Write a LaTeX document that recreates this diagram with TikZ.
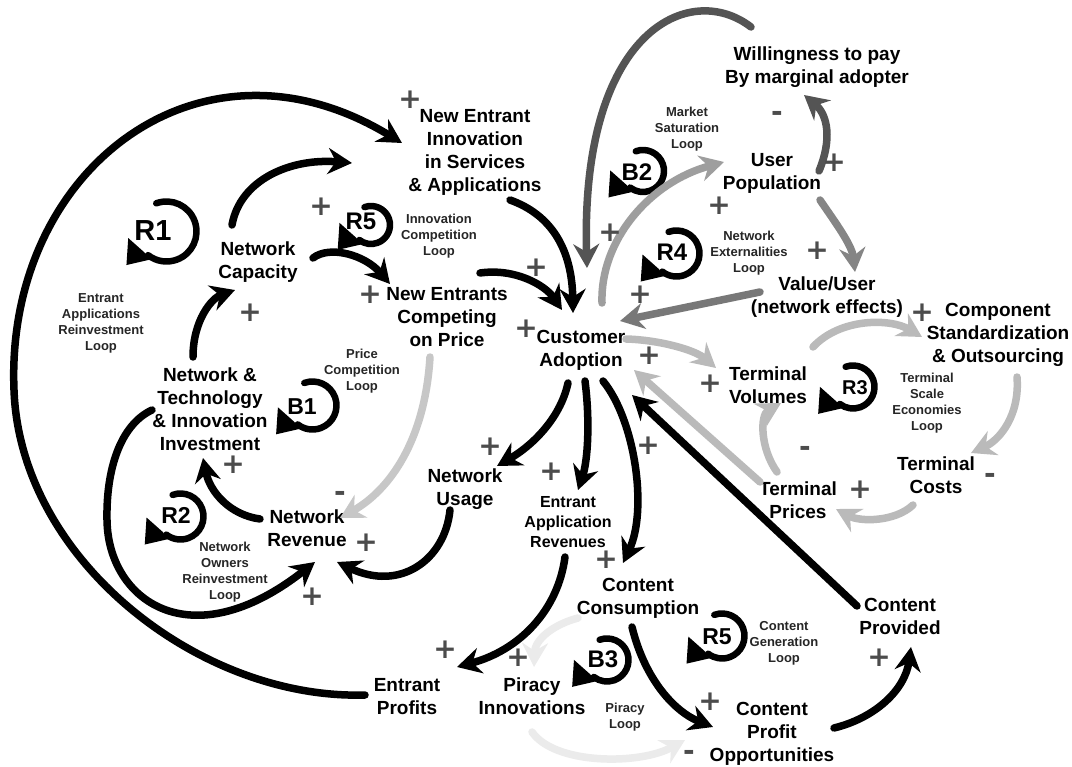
\documentclass[tikz,border=0pt]{standalone}
\usepackage{fontspec}
\setmainfont{Liberation Sans}
\newfontfamily\signfont{DejaVu Sans}
\usetikzlibrary{arrows.meta}

\definecolor{signgray}{gray}{0.30}
\definecolor{loopgray}{gray}{0.15}
\definecolor{dkg}{gray}{0.33}
\definecolor{mdg}{gray}{0.47}
\definecolor{mdgb}{gray}{0.52}
\definecolor{ltg}{gray}{0.62}
\definecolor{pale}{gray}{0.73}
\definecolor{paleb}{gray}{0.78}
\definecolor{ghost}{gray}{0.92}

% loop marker: name, label position, label, label size, arc centre, radius
% the arc runs clockwise from the top and ends in a barbed head pointing up-left
\newcommand\loopmark[6]{%
  \node[loopid, font=\bfseries\fontsize{#4}{#4}\selectfont] (#1) at (#2) {#3};
  \draw[looparc] (#5) ++(250:#6) arc[start angle=250, end angle=488, radius=#6] coordinate (#1-end);
  \fill[shift={(#1-end)}, scale=0.9] (-22,-19) -- (-24,11) -- (2,5) -- (-4,-3) -- cycle;
}

\begin{document}
\begin{tikzpicture}[x=1pt, y=-1pt,
  var/.style={align=center, font=\bfseries\fontsize{19}{23}\selectfont, inner sep=0pt},
  midvar/.style={align=center, font=\bfseries\fontsize{16}{20}\selectfont, inner sep=0pt},
  loopname/.style={align=center, font=\bfseries\fontsize{13}{16}\selectfont, text=loopgray, inner sep=0pt},
  loopid/.style={inner sep=0pt},
  looparc/.style={line width=6.5pt, line cap=round},
  sign/.style={font=\signfont\bfseries\fontsize{28}{28}\selectfont, text=signgray, inner sep=0pt},
  link/.style={line width=7.5pt, line cap=round, -{Stealth[length=24pt,width=26pt,inset=8pt]}},
]
\useasboundingbox[fill=white] (0,0) rectangle (1072,767);

% ---------- variables ----------
\node[var] (nei)   at (475,152) {New Entrant\\Innovation\\in Services\\\& Applications};
\node[var] (ncap)  at (258,262) {Network\\Capacity};
\node[var] (necp)  at (447,317) {New Entrants\\Competing\\on Price};
\node[var] (nti)   at (210,409) {Network \&\\Technology\\\& Innovation\\Investment};
\node[var] (nrev)  at (307,528) {Network\\Revenue};
\node[var] (nuse)  at (465,489) {Network\\Usage};
\node[var] (eprof) at (407,697) {Entrant\\Profits};
\node[var] (pir)   at (532,696) {Piracy\\Innovations};
\node[midvar] (ear) at (568,522) {Entrant\\Application\\Revenues};
\node[var] (cc)    at (638,598) {Content\\Consumption};
\node[var] (cpo)   at (772,734) {Content\\Profit\\Opportunities};
\node[var] (cprov) at (900,616) {Content\\Provided};
\node[var] (ca)    at (581,350) {Customer\\Adoption};
\node[var] (wtp)   at (817,67)  {Willingness to pay\\By marginal adopter};
\node[var] (up)    at (772,173) {User\\Population};
\node[var] (vu)    at (827,297) {Value/User\\(network effects)};
\node[var] (cso)   at (998,335) {Component\\Standardization\\\& Outsourcing};
\node[var] (tv)    at (768,385) {Terminal\\Volumes};
\node[var] (tc)    at (936,475) {Terminal\\Costs};
\node[var] (tp)    at (798,500) {Terminal\\Prices};

% ---------- loop names ----------
\node[loopname] (n_r1) at (101,323) {Entrant\\Applications\\Reinvestment\\Loop};
\node[loopname] (n_r5a) at (439,236) {Innovation\\Competition\\Loop};
\node[loopname] (n_b1) at (362,371) {Price\\Competition\\Loop};
\node[loopname] (n_r2) at (225,572) {Network\\Owners\\Reinvestment\\Loop};
\node[loopname] (n_b2) at (687,129) {Market\\Saturation\\Loop};
\node[loopname] (n_r4) at (749,253) {Network\\Externalities\\Loop};
\node[loopname] (n_r3) at (927,403) {Terminal\\Scale\\Economies\\Loop};
\node[loopname] (n_r5b) at (784,643) {Content\\Generation\\Loop};
\node[loopname] (n_b3) at (625,717) {Piracy\\Loop};

% ---------- loop markers ----------
\loopmark{m_r1}{153,231}{R1}{29}{166.5,231.5}{30}
\loopmark{m_r5a}{361,221}{R5}{24}{371,225}{19}
\loopmark{m_b1}{302,407}{B1}{23}{312.5,405.5}{24}
\loopmark{m_r2}{176,515}{R2}{23}{180.5,516.5}{23}
\loopmark{m_b2}{637,172}{B2}{24}{643,171}{21}
\loopmark{m_r4}{672,252}{R4}{24}{676.5,253.5}{23}
\loopmark{m_r3}{855,388}{R3}{20}{853,387}{21.5}
\loopmark{m_r5b}{717,637}{R5}{23}{722,636}{22.5}
\loopmark{m_b3}{603,659}{B3}{24}{607,660}{21.5}

% ---------- black links ----------
\draw[link] ([shift={(-42,-2)}]eprof.center) .. controls (200,700) and (20,560) .. (14,390)
            .. controls (5,170) and (200,20) .. ([shift={(-73,-9)}]nei.center);
\draw[link] ([shift={(-26,-37)}]ncap.center) .. controls (240,180) and (290,158) .. ([shift={(-123,11)}]nei.center);
\draw[link] ([shift={(55,-4)}]ncap.center) .. controls (330,245) and (365,255) .. ([shift={(-57,-33)}]necp.center);
\draw[link] ([shift={(-17,-52)}]nti.center) .. controls (193,320) and (212,298) .. ([shift={(-23,28)}]ncap.center);
\draw[link] ([shift={(35,48)}]nei.center) .. controls (552,215) and (572,250) .. ([shift={(-8,-37)}]ca.center);
\draw[link] ([shift={(33,-44)}]necp.center) .. controls (515,268) and (545,285) .. ([shift={(-19,-40)}]ca.center);
\draw[link] ([shift={(-13,33)}]ca.center) .. controls (560,420) and (530,447) .. ([shift={(32,-23)}]nuse.center);
\draw[link] ([shift={(4,31)}]ca.center) .. controls (590,420) and (588,460) .. ([shift={(10,-32)}]ear.center);
\draw[link] ([shift={(22,31)}]ca.center) .. controls (635,420) and (648,510) .. ([shift={(-15,-35)}]cc.center);
\draw[link] ([shift={(-43,-10)}]cprov.center) -- ([shift={(51,45)}]ca.center);
\draw[link] ([shift={(-15,21)}]nuse.center) .. controls (445,560) and (400,592) .. ([shift={(30,34)}]nrev.center);
\draw[link] ([shift={(-47,-9)}]nrev.center) .. controls (230,515) and (210,492) .. ([shift={(-7,49)}]nti.center);
\draw[link] ([shift={(-58,1)}]nti.center) .. controls (120,425) and (106,470) .. (107,520)
            .. controls (108,600) and (190,660) .. ([shift={(8,34)}]nrev.center);
\draw[link] ([shift={(-3,35)}]ear.center) .. controls (558,610) and (520,650) .. ([shift={(50,-30)}]eprof.center);
\draw[link] ([shift={(-6,29)}]cc.center) .. controls (645,680) and (675,712) .. ([shift={(-59,-7)}]cpo.center);
\draw[link] ([shift={(62,-6)}]cpo.center) .. controls (875,718) and (905,690) .. ([shift={(11,31)}]cprov.center);

% ---------- grey links ----------
\draw[link, dkg] ([shift={(47,-2)}]up.center) .. controls (832,140) and (828,115) .. ([shift={(-13,28)}]wtp.center);
\draw[link, dkg] ([shift={(-66,-40)}]wtp.center) .. controls (690,-20) and (580,30) .. ([shift={(6,-82)}]ca.center);
\draw[link, mdg] ([shift={(-67,-5)}]vu.center) -- ([shift={(39,-29)}]ca.center);
\draw[link, mdgb] ([shift={(48,27)}]up.center) .. controls (835,222) and (852,245) .. ([shift={(28,-25)}]vu.center);
\draw[link, ltg] ([shift={(21,-47)}]ca.center) .. controls (600,240) and (650,182) .. ([shift={(-48,-11)}]up.center);
\draw[link, pale] ([shift={(45,-11)}]ca.center) .. controls (660,340) and (695,350) .. ([shift={(-52,-17)}]tv.center);
\draw[link, pale] ([shift={(-38,-18)}]tp.center) -- ([shift={(53,20)}]ca.center);
\draw[link, pale] ([shift={(45,-38)}]tv.center) .. controls (840,318) and (890,318) .. ([shift={(-76,2)}]cso.center);
\draw[link, pale] ([shift={(19,42)}]cso.center) .. controls (1020,415) and (1000,440) .. ([shift={(35,-22)}]tc.center);
\draw[link, pale] ([shift={(-23,30)}]tc.center) .. controls (895,522) and (860,522) .. ([shift={(38,9)}]tp.center);
\draw[link, pale] ([shift={(-21,-28)}]tp.center) .. controls (760,448) and (760,415) .. ([shift={(13,18)}]tv.center);
\draw[link, paleb] ([shift={(-17,40)}]necp.center) .. controls (425,440) and (390,490) .. ([shift={(33,-10)}]nrev.center);
\draw[link, ghost] ([shift={(-60,20)}]cc.center) .. controls (552,625) and (535,640) .. ([shift={(2,-29)}]pir.center);
\draw[link, ghost] ([shift={(0,36)}]pir.center) .. controls (555,765) and (640,765) .. ([shift={(-87,6)}]cpo.center);

% ---------- polarity signs ----------
\foreach \p/\x/\y in {a/410/100, b/321/207, c/250/313, d/370/295, e/233/465, f/366/543,
  g/312/597, h/490/447, i/445/650, j/518/658, k/834/163, l/719/206, m/610/233, n/817/251,
  o/640/295, q/922/313, r/526/329, s/649/356, t/710/384, u/860/490, v/551/472, w/648/446,
  x/606/560, y/879/658, z/710/702, aa/536/268}
  \node[sign] (plus\p) at (\x,\y) {+};
\foreach \p/\x/\y in {a/340/493, b/777/113, c/805/448, d/990/475, e/689/752}
  \node[sign] (minus\p) at (\x,\y+3) {-};
\end{tikzpicture}
\end{document}
